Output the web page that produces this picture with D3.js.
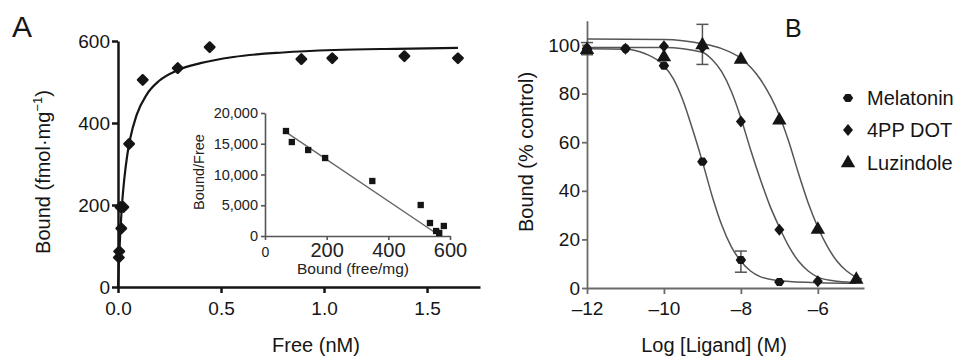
<!DOCTYPE html>
<html>
<head>
<meta charset="utf-8">
<script src="https://cdn.jsdelivr.net/npm/d3@7"></script>
<style>
  body { margin: 0; background: #fff; }
  svg { font-family: "Liberation Sans", Arial, sans-serif; display: block; }
</style>
</head>
<body>
<div id="box"></div>
<script>
// - panel A, saturation binding
const satFree = [0.004, 0.006, 0.016, 0.012, 0.026, 0.054, 0.12, 0.29, 0.445, 0.89, 1.04, 1.39, 1.65]
const satBound = [72, 87, 143, 195, 195, 349, 505, 534, 585, 556, 558, 563, 558]
// fitted curve
const fitFree = [0, 0.005, 0.01, 0.02, 0.03, 0.045, 0.06, 0.09, 0.14, 0.2, 0.29, 0.4, 0.56, 0.8, 1.05, 1.35, 1.65]
const fitBound = [0, 68, 122, 204, 261, 322, 364, 419, 470, 503, 529, 546, 561, 572, 578, 581, 583]
const satXTicks = [0, 0.5, 1.0, 1.5]
const satYTicks = [0, 200, 400, 600]

// - inset, Scatchard plot
const scBound = [68, 87, 140, 195, 348, 505, 535, 555, 565, 580]
const scRatio = [17070, 15280, 13980, 12680, 8940, 5040, 2110, 810, 500, 1630]
const scLineBound = [68, 568]
const scLineRatio = [16900, 0]
const scXTicks = [0, 200, 400, 600]
const scYTicks = [0, 5000, 10000, 15000, 20000]

// - panel B, competition
const logLigand = [-12, -11, -10, -9, -8, -7, -6, -5]
const melatonin = [98.5, 98.5, 91.5, 52, 11.5, 2.5, null, null]
const ppdot = [98.5, 98.5, 99.5, 99, 68.5, 24, 2.8, null]
const luzindole = [98, null, 95, 100, 94, 69, 24, 3.5]
const melFitX = [-12, -11, -10.5, -10, -9.75, -9.5, -9.25, -9, -8.75, -8.5, -8.25, -8, -7.75, -7.5, -7, -6, -5]
const melFitY = [98.5, 98.3, 96.5, 91.5, 86, 77, 65, 52, 38, 26, 17, 11, 7, 4.7, 3, 2.2, 2]
const ppFitX = [-12, -10, -9, -8.75, -8.5, -8.25, -8, -7.75, -7.5, -7.25, -7, -6.75, -6.5, -6.25, -6, -5.5, -4.9]
const ppFitY = [99, 99, 97, 94, 89, 81, 70, 57, 45, 34, 25, 17, 11, 7, 4.5, 2.8, 2.2]
const luzFitX = [-12, -10, -9, -8.5, -8, -7.5, -7, -6.75, -6.5, -6.25, -6, -5.75, -5.5, -5.25, -5, -4.85]
const luzFitY = [102.5, 102.3, 100.5, 98.5, 94.5, 86, 71, 60, 47, 35, 25, 17, 11, 7, 4.5, 3.7]
const errX = [-12, -9, -8]
const errLo = [96, 92, 6.5]
const errHi = [101, 108.5, 15.2]
const seriesNames = ['Melatonin', '4PP DOT', 'Luzindole']
const bXTicks = [-12, -10, -8, -6]
const bYTicks = [0, 20, 40, 60, 80, 100]

const svg = d3.select('#box')
  .append('svg')
  .attr('width', 959)
  .attr('height', 356)

// custom marker shapes
const diamondA = { draw(ctx, s) { const r = Math.sqrt(s) / 2; ctx.moveTo(0, -r); ctx.lineTo(r, 0); ctx.lineTo(0, r); ctx.lineTo(-r, 0); ctx.closePath() } }
const diamondB = { draw(ctx, s) { const r = Math.sqrt(s) / 2; ctx.moveTo(0, -r * 1.2); ctx.lineTo(r, 0); ctx.lineTo(0, r * 1.2); ctx.lineTo(-r, 0); ctx.closePath() } }
const hexB = { draw(ctx, s) { const r = Math.sqrt(s) / 2; ctx.moveTo(-r * 1.1, 0); ctx.lineTo(-r * 0.5, -r * 0.85); ctx.lineTo(r * 0.5, -r * 0.85); ctx.lineTo(r * 1.1, 0); ctx.lineTo(r * 0.5, r * 0.85); ctx.lineTo(-r * 0.5, r * 0.85); ctx.closePath() } }

// ======== panel A ========
const xA = d3.scaleLinear().domain([0, 1.757]).range([118, 480])
const yA = d3.scaleLinear().domain([0, 600]).range([287, 41])

const gA = svg.append('g').attr('id', 'panel-a')

gA.append('g')
  .attr('transform', 'translate(0,287)')
  .call(d3.axisBottom(xA).tickValues(satXTicks).tickFormat(d3.format('.1f')).tickSize(6).tickSizeOuter(0).tickPadding(9))
gA.append('g')
  .attr('transform', 'translate(118,0)')
  .call(d3.axisLeft(yA).tickValues(satYTicks).tickSize(6).tickSizeOuter(0).tickPadding(2))

gA.selectAll('.domain, .tick line').attr('stroke', '#151515').attr('stroke-width', 2.5)
gA.selectAll('.tick text').attr('font-size', 19).attr('fill', '#151515').attr('font-family', null)

const fitLineA = d3.line()
  .x((d, i) => xA(fitFree[i]))
  .y(d => yA(d))
  .curve(d3.curveMonotoneX)
gA.append('path')
  .attr('d', fitLineA(fitBound))
  .attr('fill', 'none')
  .attr('stroke', '#151515')
  .attr('stroke-width', 2.2)

gA.selectAll('.pt')
  .data(satBound)
  .join('path')
  .attr('class', 'pt')
  .attr('transform', (d, i) => `translate(${xA(satFree[i])},${yA(d)})`)
  .attr('d', d3.symbol().type(diamondA).size(90))
  .attr('fill', '#151515')
  .attr('stroke', '#151515')
  .attr('stroke-width', 2.4)
  .attr('stroke-linejoin', 'round')

gA.append('text')
  .attr('x', 316).attr('y', 352)
  .attr('text-anchor', 'middle')
  .attr('font-size', 20).attr('fill', '#151515')
  .text('Free (nM)')

const yTitleA = gA.append('text')
  .attr('transform', 'translate(50,172) rotate(-90)')
  .attr('text-anchor', 'middle')
  .attr('font-size', 20).attr('fill', '#151515')
yTitleA.append('tspan').text('Bound (fmol·mg')
yTitleA.append('tspan').attr('font-size', 13).attr('dy', -8).text('−1')
yTitleA.append('tspan').attr('dy', 8).text(')')

gA.append('text')
  .attr('x', 12).attr('y', 37)
  .attr('font-size', 30).attr('fill', '#151515')
  .text('A')

// ======== inset ========
const xI = d3.scaleLinear().domain([0, 600]).range([265, 450])
const yI = d3.scaleLinear().domain([0, 20000]).range([236, 113])
const gI = svg.append('g').attr('id', 'inset')

gI.append('g')
  .attr('transform', 'translate(0,236)')
  .call(d3.axisBottom(xI).tickValues(scXTicks).tickSize(4).tickSizeOuter(0).tickPadding(2))
  .selectAll('.tick text')
  .attr('font-size', d => d === 0 ? 14 : 20)
  .attr('dy', d => d === 0 ? '1.1em' : '0.76em')
gI.append('g')
  .attr('transform', 'translate(265,0)')
  .call(d3.axisLeft(yI).tickValues(scYTicks).tickFormat(d3.format(',')).tickSize(4).tickSizeOuter(0).tickPadding(3))
  .selectAll('.tick text')
  .attr('font-size', 14.5)

gI.selectAll('.domain, .tick line').attr('stroke', '#555').attr('stroke-width', 1.6)
gI.selectAll('.tick text').attr('fill', '#222').attr('font-family', null)

gI.append('path')
  .attr('d', d3.line().x((d, i) => xI(scLineBound[i])).y(d => yI(d))(scLineRatio))
  .attr('stroke', '#666')
  .attr('stroke-width', 1.4)
  .attr('fill', 'none')

gI.selectAll('.sq')
  .data(scRatio)
  .join('path')
  .attr('class', 'sq')
  .attr('transform', (d, i) => `translate(${xI(scBound[i])},${yI(d)})`)
  .attr('d', d3.symbol().type(d3.symbolSquare).size(40))
  .attr('fill', '#151515')

gI.append('text')
  .attr('x', 353).attr('y', 274)
  .attr('text-anchor', 'middle')
  .attr('font-size', 15.5).attr('fill', '#222')
  .text('Bound (free/mg)')
gI.append('text')
  .attr('transform', 'translate(204,172) rotate(-90)')
  .attr('text-anchor', 'middle')
  .attr('font-size', 14.5).attr('fill', '#222')
  .text('Bound/Free')

// ======== panel B ========
const xB = d3.scaleLinear().domain([-12, -4.8]).range([587, 864])
const yB = d3.scaleLinear().domain([0, 110]).range([288, 20.7])
const gB = svg.append('g').attr('id', 'panel-b')

gB.append('g')
  .attr('transform', 'translate(0,288)')
  .call(d3.axisBottom(xB).tickValues(bXTicks).tickFormat(d => '–' + Math.abs(d)).tickSize(6).tickSizeOuter(0).tickPadding(8))
gB.append('g')
  .attr('transform', 'translate(587,0)')
  .call(d3.axisLeft(yB).tickValues(bYTicks).tickSize(5).tickSizeOuter(0).tickPadding(2))

gB.selectAll('.domain, .tick line').attr('stroke', '#6a6a6a').attr('stroke-width', 1.8)
gB.selectAll('.tick text').attr('font-size', 19).attr('fill', '#151515').attr('font-family', null)

const fits = [[melFitX, melFitY], [ppFitX, ppFitY], [luzFitX, luzFitY]]
fits.forEach(([fx, fy]) => {
  gB.append('path')
    .attr('d', d3.line().x((d, i) => xB(fx[i])).y(d => yB(d)).curve(d3.curveMonotoneX)(fy))
    .attr('fill', 'none')
    .attr('stroke', '#555')
    .attr('stroke-width', 1.5)
})

// error bars
errX.forEach((x, i) => {
  const eb = gB.append('g').attr('stroke', '#555').attr('stroke-width', 1.5)
  eb.append('line').attr('x1', xB(x)).attr('x2', xB(x)).attr('y1', yB(errLo[i])).attr('y2', yB(errHi[i]))
  eb.append('line').attr('x1', xB(x) - 6).attr('x2', xB(x) + 6).attr('y1', yB(errLo[i])).attr('y2', yB(errLo[i]))
  eb.append('line').attr('x1', xB(x) - 6).attr('x2', xB(x) + 6).attr('y1', yB(errHi[i])).attr('y2', yB(errHi[i]))
})

const shapes = [
  d3.symbol().type(hexB).size(90),
  d3.symbol().type(diamondB).size(100),
  d3.symbol().type(d3.symbolTriangle).size(90),
]
const seriesB = [melatonin, ppdot, luzindole]
seriesB.forEach((vals, k) => {
  gB.selectAll('.s' + k)
    .data(vals.map((v, i) => [logLigand[i], v]).filter(d => d[1] !== null))
    .join('path')
    .attr('class', 's' + k)
    .attr('transform', d => `translate(${xB(d[0])},${yB(d[1])})`)
    .attr('d', shapes[k])
    .attr('fill', '#151515')
})

// legend
const legY = [98, 130, 163]
seriesNames.forEach((name, k) => {
  gB.append('path')
    .attr('transform', `translate(848,${legY[k]})`)
    .attr('d', shapes[k])
    .attr('fill', '#151515')
  gB.append('text')
    .attr('x', 867).attr('y', legY[k] + 7)
    .attr('font-size', 20).attr('fill', '#151515')
    .text(name)
})

gB.append('text')
  .attr('x', 714).attr('y', 352)
  .attr('text-anchor', 'middle')
  .attr('font-size', 20).attr('fill', '#151515')
  .text('Log [Ligand] (M)')
gB.append('text')
  .attr('transform', 'translate(533,152) rotate(-90)')
  .attr('text-anchor', 'middle')
  .attr('font-size', 20).attr('fill', '#151515')
  .text('Bound (% control)')
gB.append('text')
  .attr('x', 785).attr('y', 37)
  .attr('font-size', 25).attr('fill', '#151515')
  .text('B')
</script>
</body>
</html>
